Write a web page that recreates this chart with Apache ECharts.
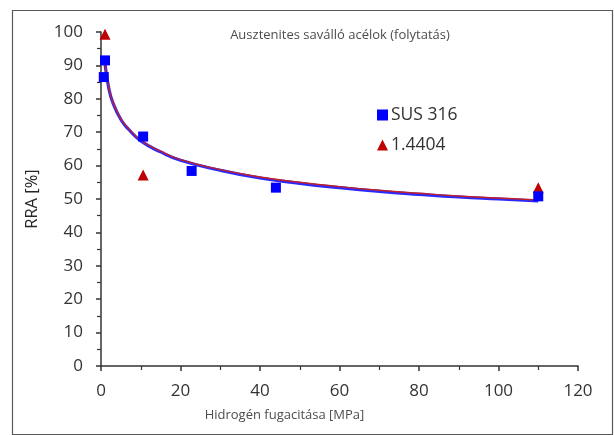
<!DOCTYPE html>
<html>
<head>
<meta charset="utf-8">
<script src="https://cdn.jsdelivr.net/npm/echarts@6/dist/echarts.min.js"></script>
<style>html,body{margin:0;padding:0;background:#fff;}#c{width:614px;height:435px;}</style>
</head>
<body>
<div id="c"></div>
<script>
// Data
const titleText = 'Ausztenites saválló acélok (folytatás)';
const xName = 'Hidrogén fugacitása [MPa]';
const yName = 'RRA [%]';
const seriesNames = ['SUS 316', '1.4404'];

const sus316X = [1, 0.7, 10.6, 22.8, 44, 110];
const sus316Y = [91.5, 86.5, 68.7, 58.4, 53.4, 50.8];

const a4404X = [1, 10.6, 110];
const a4404Y = [99.3, 57.2, 53.4];

// trend curves
const trendX = [1, 2, 3, 5, 7, 10, 15, 20, 30, 40, 50, 60, 70, 80, 90, 100, 110];
const trendSusY = [90.5, 82.9, 78.8, 73.8, 70.8, 67.4, 64.1, 61.6, 58.6, 56.3, 54.7, 53.4, 52.3, 51.4, 50.6, 50.0, 49.4];
const trend4404Y = [90.7, 83.1, 79.0, 74.0, 71.0, 67.6, 64.3, 61.8, 58.8, 56.6, 55.0, 53.7, 52.6, 51.7, 50.9, 50.3, 49.7];

const zip = (xs, ys) => xs.map((x, i) => [x, ys[i]]);

const chart = echarts.init(document.getElementById('c'));
chart.setOption({
  animation: false,
  backgroundColor: '#fff',
  graphic: [{
    type: 'rect', left: 10, top: 8,
    shape: {width: 600, height: 424},
    style: {fill: 'none', stroke: '#595959', lineWidth: 1.2},
    silent: true, z: -1
  }],
  title: {
    text: titleText, left: 335, top: 24, textAlign: 'center',
    textStyle: {fontFamily: 'Open Sans', fontSize: 13, fontWeight: 'normal', color: '#4d4d4d'}
  },
  grid: {left: 101, right: 36, top: 32, bottom: 69},
  legend: {
    data: [{name: seriesNames[0], icon: 'rect'}, {name: seriesNames[1], icon: 'triangle'}],
    orient: 'vertical', left: 372, top: 101, itemGap: 12,
    itemWidth: 11, itemHeight: 11,
    textStyle: {fontFamily: 'Open Sans', fontSize: 17.5, color: '#333', padding: [0, 0, 0, -2]}
  },
  xAxis: {
    type: 'value', min: 0, max: 120, interval: 20,
    name: xName, nameLocation: 'middle', nameGap: 43,
    nameTextStyle: {fontFamily: 'Open Sans', fontSize: 13, color: '#4d4d4d', padding: [0, 110, 0, 0]},
    axisLine: {lineStyle: {color: '#333', width: 1.5}},
    axisTick: {show: true, length: 5, lineStyle: {color: '#333', width: 1.5}},
    minorTick: {show: true, splitNumber: 2, length: 4, lineStyle: {color: '#333', width: 1.2}},
    axisLabel: {fontFamily: 'Open Sans', fontSize: 17, color: '#333', margin: 17},
    splitLine: {show: false}
  },
  yAxis: {
    type: 'value', min: 0, max: 100, interval: 10,
    name: yName, nameLocation: 'middle', nameGap: 60, nameRotate: 90,
    nameTextStyle: {fontFamily: 'Open Sans', fontSize: 16.5, color: '#262626'},
    axisLine: {show: true, lineStyle: {color: '#333', width: 1.5}},
    axisTick: {show: true, length: 5, lineStyle: {color: '#333', width: 1.5}},
    minorTick: {show: true, splitNumber: 2, length: 4, lineStyle: {color: '#333', width: 1.2}},
    axisLabel: {fontFamily: 'Open Sans', fontSize: 17, color: '#333', margin: 18},
    splitLine: {show: false}
  },
  series: [
    {
      name: 'trend-sus', type: 'line', data: zip(trendX, trendSusY), smooth: true,
      showSymbol: false, lineStyle: {color: '#2a2aff', width: 3.2}, z: 2, silent: true
    },
    {
      name: 'trend-4404', type: 'line', data: zip(trendX, trend4404Y), smooth: true,
      showSymbol: false, lineStyle: {color: '#c0202a', width: 1.4}, z: 3, silent: true
    },
    {
      name: seriesNames[0], type: 'scatter', data: zip(sus316X, sus316Y),
      symbol: 'rect', symbolSize: 10, itemStyle: {color: '#0000ff', opacity: 1}, z: 5
    },
    {
      name: seriesNames[1], type: 'scatter', data: zip(a4404X, a4404Y),
      symbol: 'triangle', symbolSize: 11, itemStyle: {color: '#c00000', opacity: 1}, z: 4
    }
  ]
});
</script>
</body>
</html>
